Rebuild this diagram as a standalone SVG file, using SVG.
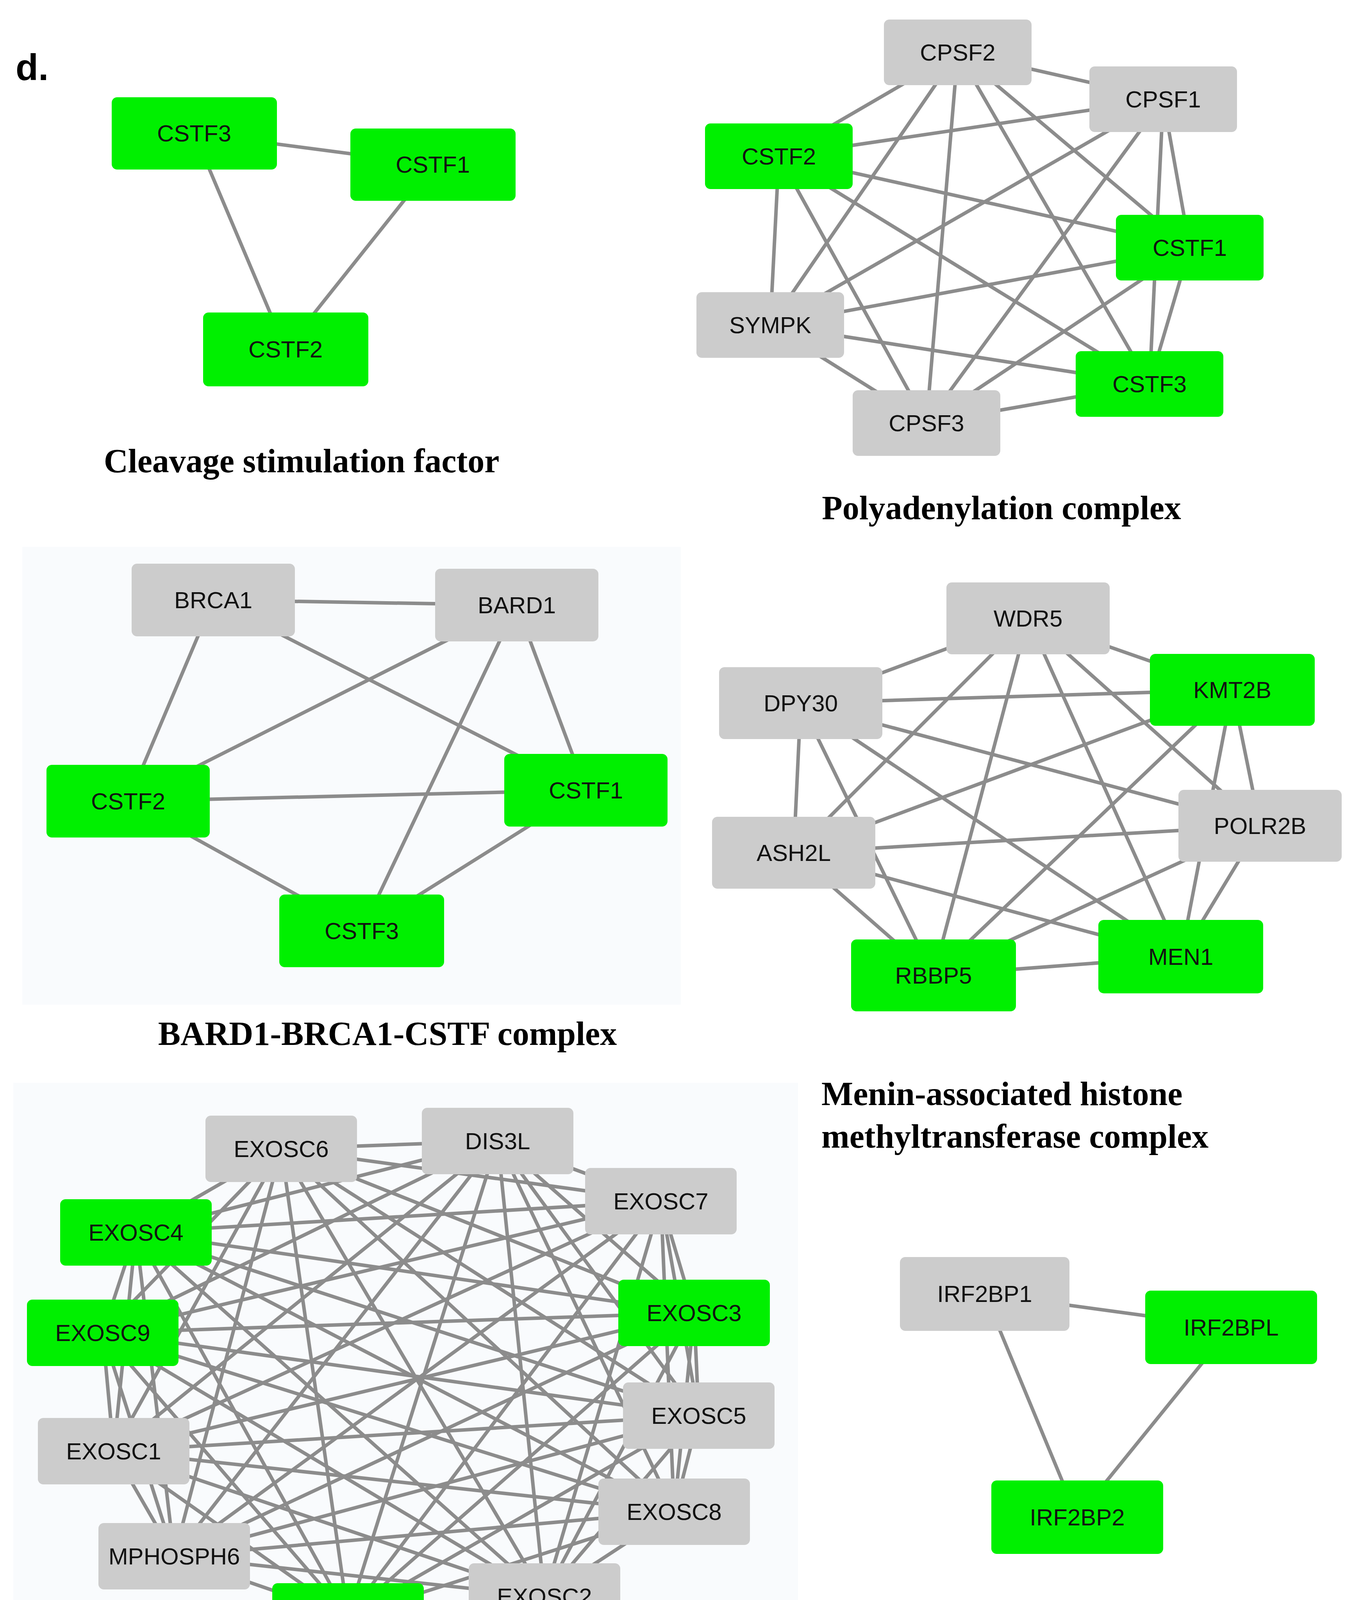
<svg xmlns="http://www.w3.org/2000/svg" width="3487" height="4479" viewBox="0 0 3487 4479">
<style>
.g rect{fill:#00f000}
.n rect{fill:#cccccc}
.n text,.g text{font-family:"Liberation Sans",Arial,sans-serif;font-size:60px;fill:#111;text-anchor:middle;dominant-baseline:central}
.e line{stroke:#8c8c8c;stroke-width:9}
.t{font-family:"Liberation Serif","Times New Roman",serif;font-weight:bold;font-size:86px;fill:#000}
</style>
<rect width="3487" height="4479" fill="#fff"/>
<rect x="57" y="1400" width="1686" height="1172" fill="#f9fbfd"/>
<rect x="34" y="2772" width="2009" height="1515" fill="#f9fbfd"/>
<text x="40" y="205" font-family="Liberation Sans,Arial,sans-serif" font-weight="bold" font-size="95">d.</text>
<g id="connectors" class="e">
<!-- CSTF -->
<line x1="497" y1="341" x2="1108" y2="421"/><line x1="497" y1="341" x2="731" y2="894"/><line x1="1108" y1="421" x2="731" y2="894"/>
<!-- Poly K7 -->
<line x1="2452" y1="134" x2="2978" y2="254"/><line x1="2452" y1="134" x2="1994" y2="400"/><line x1="2452" y1="134" x2="3046" y2="634"/><line x1="2452" y1="134" x2="1972" y2="832"/><line x1="2452" y1="134" x2="2943" y2="983"/><line x1="2452" y1="134" x2="2372" y2="1083"/>
<line x1="2978" y1="254" x2="1994" y2="400"/><line x1="2978" y1="254" x2="3046" y2="634"/><line x1="2978" y1="254" x2="1972" y2="832"/><line x1="2978" y1="254" x2="2943" y2="983"/><line x1="2978" y1="254" x2="2372" y2="1083"/>
<line x1="1994" y1="400" x2="3046" y2="634"/><line x1="1994" y1="400" x2="1972" y2="832"/><line x1="1994" y1="400" x2="2943" y2="983"/><line x1="1994" y1="400" x2="2372" y2="1083"/>
<line x1="3046" y1="634" x2="1972" y2="832"/><line x1="3046" y1="634" x2="2943" y2="983"/><line x1="3046" y1="634" x2="2372" y2="1083"/>
<line x1="1972" y1="832" x2="2943" y2="983"/><line x1="1972" y1="832" x2="2372" y2="1083"/><line x1="2943" y1="983" x2="2372" y2="1083"/>
<!-- BARD1 -->
<line x1="546" y1="1536" x2="1323" y2="1549"/><line x1="546" y1="1536" x2="328" y2="2051"/><line x1="546" y1="1536" x2="1500" y2="2023"/>
<line x1="1323" y1="1549" x2="328" y2="2051"/><line x1="1323" y1="1549" x2="1500" y2="2023"/><line x1="1323" y1="1549" x2="926" y2="2383"/>
<line x1="328" y1="2051" x2="1500" y2="2023"/><line x1="328" y1="2051" x2="926" y2="2383"/><line x1="1500" y1="2023" x2="926" y2="2383"/>
<!-- Menin K7 -->
<line x1="2632" y1="1583" x2="2050" y2="1800"/><line x1="2632" y1="1583" x2="3155" y2="1766"/><line x1="2632" y1="1583" x2="3226" y2="2114"/><line x1="2632" y1="1583" x2="2032" y2="2183"/><line x1="2632" y1="1583" x2="3023" y2="2449"/><line x1="2632" y1="1583" x2="2390" y2="2497"/>
<line x1="2050" y1="1800" x2="3155" y2="1766"/><line x1="2050" y1="1800" x2="3226" y2="2114"/><line x1="2050" y1="1800" x2="2032" y2="2183"/><line x1="2050" y1="1800" x2="3023" y2="2449"/><line x1="2050" y1="1800" x2="2390" y2="2497"/>
<line x1="3155" y1="1766" x2="3226" y2="2114"/><line x1="3155" y1="1766" x2="2032" y2="2183"/><line x1="3155" y1="1766" x2="3023" y2="2449"/><line x1="3155" y1="1766" x2="2390" y2="2497"/>
<line x1="3226" y1="2114" x2="2032" y2="2183"/><line x1="3226" y1="2114" x2="3023" y2="2449"/><line x1="3226" y1="2114" x2="2390" y2="2497"/>
<line x1="2032" y1="2183" x2="3023" y2="2449"/><line x1="2032" y1="2183" x2="2390" y2="2497"/><line x1="3023" y1="2449" x2="2390" y2="2497"/>
<!-- IRF2BP -->
<line x1="2521" y1="3312" x2="3152" y2="3398"/><line x1="2521" y1="3312" x2="2758" y2="3884"/><line x1="3152" y1="3398" x2="2758" y2="3884"/>
<!-- Exosome K12 -->
<line x1="720" y1="2941" x2="1274" y2="2921"/><line x1="720" y1="2941" x2="1692" y2="3075"/><line x1="720" y1="2941" x2="348" y2="3155"/><line x1="720" y1="2941" x2="263" y2="3412"/><line x1="720" y1="2941" x2="1777" y2="3361"/><line x1="720" y1="2941" x2="1789" y2="3624"/><line x1="720" y1="2941" x2="291" y2="3715"/><line x1="720" y1="2941" x2="1726" y2="3870"/><line x1="720" y1="2941" x2="446" y2="3984"/><line x1="720" y1="2941" x2="1394" y2="4087"/><line x1="720" y1="2941" x2="891" y2="4138"/>
<line x1="1274" y1="2921" x2="1692" y2="3075"/><line x1="1274" y1="2921" x2="348" y2="3155"/><line x1="1274" y1="2921" x2="263" y2="3412"/><line x1="1274" y1="2921" x2="1777" y2="3361"/><line x1="1274" y1="2921" x2="1789" y2="3624"/><line x1="1274" y1="2921" x2="291" y2="3715"/><line x1="1274" y1="2921" x2="1726" y2="3870"/><line x1="1274" y1="2921" x2="446" y2="3984"/><line x1="1274" y1="2921" x2="1394" y2="4087"/><line x1="1274" y1="2921" x2="891" y2="4138"/>
<line x1="1692" y1="3075" x2="348" y2="3155"/><line x1="1692" y1="3075" x2="263" y2="3412"/><line x1="1692" y1="3075" x2="1777" y2="3361"/><line x1="1692" y1="3075" x2="1789" y2="3624"/><line x1="1692" y1="3075" x2="291" y2="3715"/><line x1="1692" y1="3075" x2="1726" y2="3870"/><line x1="1692" y1="3075" x2="446" y2="3984"/><line x1="1692" y1="3075" x2="1394" y2="4087"/><line x1="1692" y1="3075" x2="891" y2="4138"/>
<line x1="348" y1="3155" x2="263" y2="3412"/><line x1="348" y1="3155" x2="1777" y2="3361"/><line x1="348" y1="3155" x2="1789" y2="3624"/><line x1="348" y1="3155" x2="291" y2="3715"/><line x1="348" y1="3155" x2="1726" y2="3870"/><line x1="348" y1="3155" x2="446" y2="3984"/><line x1="348" y1="3155" x2="1394" y2="4087"/><line x1="348" y1="3155" x2="891" y2="4138"/>
<line x1="263" y1="3412" x2="1777" y2="3361"/><line x1="263" y1="3412" x2="1789" y2="3624"/><line x1="263" y1="3412" x2="291" y2="3715"/><line x1="263" y1="3412" x2="1726" y2="3870"/><line x1="263" y1="3412" x2="446" y2="3984"/><line x1="263" y1="3412" x2="1394" y2="4087"/><line x1="263" y1="3412" x2="891" y2="4138"/>
<line x1="1777" y1="3361" x2="1789" y2="3624"/><line x1="1777" y1="3361" x2="291" y2="3715"/><line x1="1777" y1="3361" x2="1726" y2="3870"/><line x1="1777" y1="3361" x2="446" y2="3984"/><line x1="1777" y1="3361" x2="1394" y2="4087"/><line x1="1777" y1="3361" x2="891" y2="4138"/>
<line x1="1789" y1="3624" x2="291" y2="3715"/><line x1="1789" y1="3624" x2="1726" y2="3870"/><line x1="1789" y1="3624" x2="446" y2="3984"/><line x1="1789" y1="3624" x2="1394" y2="4087"/><line x1="1789" y1="3624" x2="891" y2="4138"/>
<line x1="291" y1="3715" x2="1726" y2="3870"/><line x1="291" y1="3715" x2="446" y2="3984"/><line x1="291" y1="3715" x2="1394" y2="4087"/><line x1="291" y1="3715" x2="891" y2="4138"/>
<line x1="1726" y1="3870" x2="446" y2="3984"/><line x1="1726" y1="3870" x2="1394" y2="4087"/><line x1="1726" y1="3870" x2="891" y2="4138"/>
<line x1="446" y1="3984" x2="1394" y2="4087"/><line x1="446" y1="3984" x2="891" y2="4138"/><line x1="1394" y1="4087" x2="891" y2="4138"/>
</g>
<!-- CSTF panel -->
<g id="c1-cstf3" class="g"><rect x="286" y="249" width="423" height="185" rx="14"/><text x="497" y="341">CSTF3</text></g>
<g id="c1-cstf1" class="g"><rect x="897" y="329" width="423" height="185" rx="14"/><text x="1108" y="421">CSTF1</text></g>
<g id="c1-cstf2" class="g"><rect x="520" y="800" width="423" height="189" rx="14"/><text x="731" y="894">CSTF2</text></g>
<text class="t" x="772" y="1209" text-anchor="middle">Cleavage stimulation factor</text>
<!-- Poly -->
<g id="p-cpsf2" class="n"><rect x="2263" y="50" width="378" height="168" rx="14"/><text x="2452" y="134" font-size="56">CPSF2</text></g>
<g id="p-cpsf1" class="n"><rect x="2789" y="170" width="378" height="168" rx="14"/><text x="2978" y="254" font-size="56">CPSF1</text></g>
<g id="p-cstf2" class="g"><rect x="1805" y="316" width="378" height="168" rx="14"/><text x="1994" y="400" font-size="56">CSTF2</text></g>
<g id="p-cstf1" class="g"><rect x="2857" y="550" width="378" height="168" rx="14"/><text x="3046" y="634" font-size="56">CSTF1</text></g>
<g id="p-sympk" class="n"><rect x="1783" y="748" width="378" height="168" rx="14"/><text x="1972" y="832" font-size="56">SYMPK</text></g>
<g id="p-cstf3" class="g"><rect x="2754" y="899" width="378" height="168" rx="14"/><text x="2943" y="983" font-size="56">CSTF3</text></g>
<g id="p-cpsf3" class="n"><rect x="2183" y="999" width="378" height="168" rx="14"/><text x="2372" y="1083" font-size="56">CPSF3</text></g>
<text class="t" x="2564" y="1329" text-anchor="middle">Polyadenylation complex</text>
<!-- BARD1 -->
<g id="b-brca1" class="n"><rect x="337" y="1443" width="418" height="186" rx="14"/><text x="546" y="1536">BRCA1</text></g>
<g id="b-bard1" class="n"><rect x="1114" y="1456" width="418" height="186" rx="14"/><text x="1323" y="1549">BARD1</text></g>
<g id="b-cstf2" class="g"><rect x="119" y="1958" width="418" height="186" rx="14"/><text x="328" y="2051">CSTF2</text></g>
<g id="b-cstf1" class="g"><rect x="1291" y="1930" width="418" height="186" rx="14"/><text x="1500" y="2023">CSTF1</text></g>
<g id="b-cstf3" class="g"><rect x="715" y="2290" width="422" height="186" rx="14"/><text x="926" y="2383">CSTF3</text></g>
<text class="t" x="992" y="2675" text-anchor="middle">BARD1-BRCA1-CSTF complex</text>
<!-- Menin -->
<g id="m-wdr5" class="n"><rect x="2423" y="1491" width="418" height="184" rx="14"/><text x="2632" y="1583">WDR5</text></g>
<g id="m-dpy30" class="n"><rect x="1841" y="1708" width="418" height="184" rx="14"/><text x="2050" y="1800">DPY30</text></g>
<g id="m-kmt2b" class="g"><rect x="2944" y="1674" width="422" height="184" rx="14"/><text x="3155" y="1766">KMT2B</text></g>
<g id="m-polr2b" class="n"><rect x="3017" y="2022" width="418" height="184" rx="14"/><text x="3226" y="2114">POLR2B</text></g>
<g id="m-ash2l" class="n"><rect x="1823" y="2091" width="418" height="184" rx="14"/><text x="2032" y="2183">ASH2L</text></g>
<g id="m-men1" class="g"><rect x="2812" y="2355" width="422" height="188" rx="14"/><text x="3023" y="2449">MEN1</text></g>
<g id="m-rbbp5" class="g"><rect x="2179" y="2405" width="422" height="184" rx="14"/><text x="2390" y="2497">RBBP5</text></g>
<text class="t" x="2103" y="2829">Menin-associated histone</text>
<text class="t" x="2103" y="2938">methyltransferase complex</text>
<!-- IRF2BP -->
<g id="i-irf2bp1" class="n"><rect x="2304" y="3218" width="434" height="189" rx="14"/><text x="2521" y="3312">IRF2BP1</text></g>
<g id="i-irf2bpl" class="g"><rect x="2932" y="3304" width="440" height="188" rx="14"/><text x="3152" y="3398">IRF2BPL</text></g>
<g id="i-irf2bp2" class="g"><rect x="2538" y="3790" width="440" height="188" rx="14"/><text x="2758" y="3884">IRF2BP2</text></g>
<text class="t" x="2475" y="4195">IRF2BP2-IRF2BP1-</text>
<text class="t" x="2475" y="4304">IRF2BPL complex</text>
<text class="t" x="2475" y="4410">(DIF-1 complex )</text>
<!-- Exosome -->
<g id="x-exosc6" class="n"><rect x="526" y="2856" width="388" height="170" rx="14"/><text x="720" y="2941" font-size="56">EXOSC6</text></g>
<g id="x-dis3l" class="n"><rect x="1080" y="2836" width="388" height="170" rx="14"/><text x="1274" y="2921" font-size="56">DIS3L</text></g>
<g id="x-exosc7" class="n"><rect x="1498" y="2990" width="388" height="170" rx="14"/><text x="1692" y="3075" font-size="56">EXOSC7</text></g>
<g id="x-exosc4" class="g"><rect x="154" y="3070" width="388" height="170" rx="14"/><text x="348" y="3155" font-size="56">EXOSC4</text></g>
<g id="x-exosc9" class="g"><rect x="69" y="3327" width="388" height="170" rx="14"/><text x="263" y="3412" font-size="56">EXOSC9</text></g>
<g id="x-exosc3" class="g"><rect x="1583" y="3276" width="388" height="170" rx="14"/><text x="1777" y="3361" font-size="56">EXOSC3</text></g>
<g id="x-exosc5" class="n"><rect x="1595" y="3539" width="388" height="170" rx="14"/><text x="1789" y="3624" font-size="56">EXOSC5</text></g>
<g id="x-exosc1" class="n"><rect x="97" y="3630" width="388" height="170" rx="14"/><text x="291" y="3715" font-size="56">EXOSC1</text></g>
<g id="x-exosc8" class="n"><rect x="1532" y="3785" width="388" height="170" rx="14"/><text x="1726" y="3870" font-size="56">EXOSC8</text></g>
<g id="x-mphosph6" class="n"><rect x="252" y="3899" width="388" height="170" rx="14"/><text x="446" y="3984" font-size="56">MPHOSPH6</text></g>
<g id="x-exosc2" class="n"><rect x="1200" y="4002" width="388" height="170" rx="14"/><text x="1394" y="4087" font-size="56">EXOSC2</text></g>
<g id="x-exosc10" class="g"><rect x="697" y="4053" width="388" height="170" rx="14"/><text x="891" y="4138" font-size="56">EXOSC10</text></g>
<text x="1086" y="4395" text-anchor="middle" font-family="Open Sans,Liberation Sans,sans-serif" font-weight="bold" font-size="105">Exosome</text>
</svg>
